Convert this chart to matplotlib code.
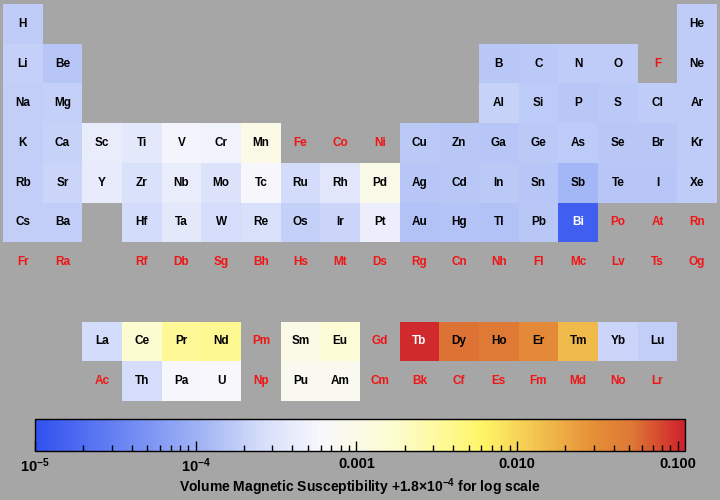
import numpy as np
import matplotlib
matplotlib.use("Agg")
import matplotlib.pyplot as plt
from matplotlib.colors import LinearSegmentedColormap, LogNorm
from matplotlib.ticker import FixedLocator

plt.rcParams['font.family'] = ['Liberation Sans', 'DejaVu Sans']
plt.rcParams['mathtext.fontset'] = 'custom'
plt.rcParams['mathtext.rm'] = 'Liberation Sans:bold'
plt.rcParams['mathtext.it'] = 'Liberation Sans:bold'

symbols = ["H", "He", "Li", "Be", "B", "C", "N", "O", "F", "Ne",
           "Na", "Mg", "Al", "Si", "P", "S", "Cl", "Ar",
           "K", "Ca", "Sc", "Ti", "V", "Cr", "Mn", "Fe", "Co", "Ni", "Cu", "Zn",
           "Ga", "Ge", "As", "Se", "Br", "Kr",
           "Rb", "Sr", "Y", "Zr", "Nb", "Mo", "Tc", "Ru", "Rh", "Pd", "Ag", "Cd",
           "In", "Sn", "Sb", "Te", "I", "Xe",
           "Cs", "Ba", "La", "Ce", "Pr", "Nd", "Pm", "Sm", "Eu", "Gd", "Tb", "Dy",
           "Ho", "Er", "Tm", "Yb", "Lu", "Hf", "Ta", "W", "Re", "Os", "Ir", "Pt",
           "Au", "Hg", "Tl", "Pb", "Bi", "Po", "At", "Rn",
           "Fr", "Ra", "Ac", "Th", "Pa", "U", "Np", "Pu", "Am", "Cm", "Bk", "Cf",
           "Es", "Fm", "Md", "No", "Lr", "Rf", "Db", "Sg", "Bh", "Hs", "Mt", "Ds",
           "Rg", "Cn", "Nh", "Fl", "Mc", "Lv", "Ts", "Og"]

nan = np.nan
# volume magnetic susceptibility (SI), nan = no data
chi = [-2.2e-9, -1.0e-9, 1.4e-5, -2.3e-5, -1.9e-5, -1.4e-5, -6.4e-9, 1.9e-6, nan, -3.8e-9,
       8.5e-6, 1.2e-5, 2.2e-5, -3.4e-6, -1.9e-5, -1.2e-5, -2.3e-8, -1.1e-8,
       5.7e-6, 2.2e-5, 2.4e-4, 1.8e-4, 3.8e-4, 3.2e-4, 8.7e-4, nan, nan, nan, -9.6e-6, -1.6e-5,
       -2.3e-5, -1.1e-5, -5.4e-6, -1.7e-5, -1.6e-5, -1.6e-8,
       3.8e-6, 3.5e-5, 2.2e-4, 1.1e-4, 2.4e-4, 1.2e-4, 3.9e-4, 6.6e-5, 1.7e-4, 7.8e-4, -2.4e-5, -1.9e-5,
       -1.2e-5, -2.3e-5, -6.8e-5, -2.4e-5, -2.2e-5, -2.4e-8,
       5.2e-6, 6.9e-6, 6.6e-5, 1.5e-3, 3.3e-3, 3.4e-3, nan, 8.1e-4, 1.3e-3, nan, 0.10, 0.054,
       0.049, 0.034, 0.015, 3.4e-5, 1.0e-5, 7.0e-5, 1.8e-4, 7.8e-5, 9.6e-5, 1.5e-5, 3.7e-5, 2.7e-4,
       -3.4e-5, -2.8e-5, -3.7e-5, -1.6e-5, -1.66e-4, nan, nan, nan,
       nan, nan, nan, 8.4e-5, 3.9e-4, 4.1e-4, nan, 6.2e-4, 6.6e-4, nan, nan, nan,
       nan, nan, nan, nan, nan, nan, nan, nan, nan, nan, nan, nan,
       nan, nan, nan, nan, nan, nan, nan, nan]

offset = 1.8e-4
vmin, vmax = 1e-5, 0.111


def place(z):
    # (row, column) of element z in the table, f-block on rows 9 and 10
    if z == 1:
        return 1, 1
    if z == 2:
        return 1, 18
    if z <= 18:
        row = 2 if z <= 10 else 3
        n = z - (2 if z <= 10 else 10)
        return row, n if n <= 2 else n + 10
    if z <= 54:
        row = 4 if z <= 36 else 5
        return row, z - (18 if z <= 36 else 36)
    start = 54 if z <= 86 else 86
    n = z - start
    row = 6 if z <= 86 else 7
    if n <= 2:
        return row, n
    if n <= 17:
        return row + 3, n
    return row, n - 14


grid = np.full((10, 18), np.nan)
for z, v in enumerate(chi, start=1):
    r, c = place(z)
    if not np.isnan(v):
        grid[r - 1, c - 1] = v + offset

cmap = LinearSegmentedColormap.from_list("chi", [
    (0.00, (0.19, 0.32, 0.94)),
    (0.25, (0.62, 0.70, 0.96)),
    (0.35, (0.84, 0.87, 0.98)),
    (0.44, (0.97, 0.97, 0.99)),
    (0.55, (0.99, 0.99, 0.82)),
    (0.69, (1.00, 0.96, 0.40)),
    (0.86, (0.90, 0.56, 0.22)),
    (0.92, (0.87, 0.47, 0.21)),
    (1.00, (0.81, 0.13, 0.17)),
])
norm = LogNorm(vmin=vmin, vmax=vmax)

bg = '#a6a6a6'
fig = plt.figure(figsize=(7.2, 5.0), dpi=100, facecolor=bg)
ax = fig.add_axes([3 / 720, 99 / 500, 714 / 720, 397 / 500])
ax.set_facecolor(bg)
mesh = ax.pcolormesh(np.arange(0.5, 19.5), np.arange(0.5, 11.5), grid,
                     cmap=cmap, norm=norm, edgecolors='none', antialiased=False)
ax.set_xlim(0.5, 18.5)
ax.set_ylim(10.5, 0.5)
ax.axis('off')

for z, (sym, v) in enumerate(zip(symbols, chi), start=1):
    r, c = place(z)
    if np.isnan(v):
        color = '#f01414'
    elif norm(v + offset) < 0.08 or norm(v + offset) > 0.97:
        color = 'white'
    else:
        color = 'black'
    ax.text(c, r, sym, ha='center', va='center', fontsize=8.5,
            fontweight='bold', color=color)

cax = fig.add_axes([35 / 720, 49 / 500, 650 / 720, 32 / 500])
cb = fig.colorbar(mesh, cax=cax, orientation='horizontal')
cb.outline.set_linewidth(1.0)
cb.outline.set_edgecolor('black')
cb.set_ticks([1e-5, 1e-4, 1e-3, 1e-2, 1e-1])
cb.set_ticklabels([r'$10^{-5}$', r'$10^{-4}$', '0.001', '0.010', '0.100'])
minors = [m * 10.0 ** e for e in range(-5, -1) for m in range(2, 10)]
minors = [m for m in minors if m < vmax]
cax.xaxis.set_minor_locator(FixedLocator(minors))
cax.tick_params(which='both', direction='in', top=False, bottom=True,
                color='black', width=1.0)
cax.tick_params(which='major', length=7, labelsize=10.5, pad=4)
cax.tick_params(which='minor', length=4)
for lab in cax.get_xticklabels():
    lab.set_fontweight('bold')
cax.set_xlabel(r'Volume Magnetic Susceptibility +1.8×10$^{-4}$ for log scale',
               fontsize=10, fontweight='bold', labelpad=1)

fig.savefig('out.png', dpi=100, facecolor=bg)
